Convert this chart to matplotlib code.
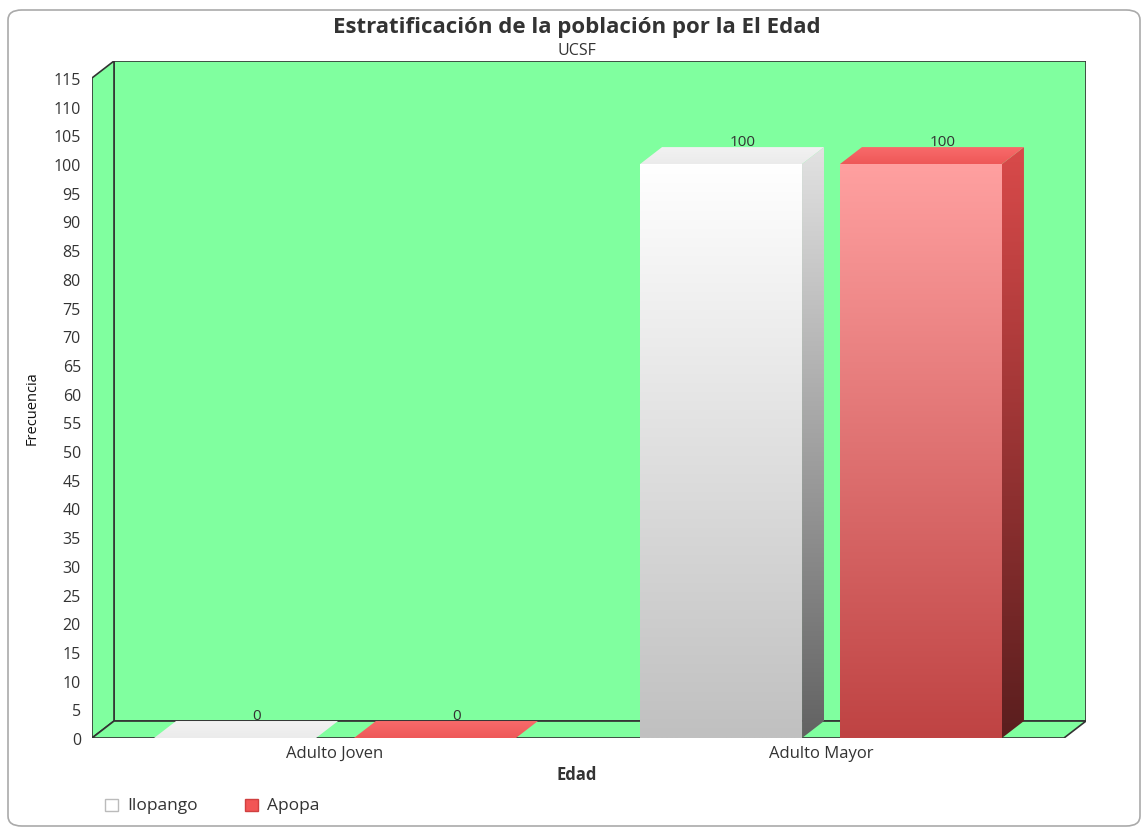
import numpy as np
import matplotlib
matplotlib.use("Agg")
import matplotlib.pyplot as plt
from matplotlib.patches import Polygon, Rectangle, FancyBboxPatch
from matplotlib.colors import LinearSegmentedColormap

plt.rcParams['font.family'] = ['Open Sans', 'DejaVu Sans']

# Data
categories = ["Adulto Joven", "Adulto Mayor"]
series_names = ["Ilopango", "Apopa"]
ilopango = [0, 100]
apopa = [0, 100]
y_ticks = list(range(0, 120, 5))

title = "Estratificación de la población por la El Edad"
subtitle = "UCSF"

# Face colours (top, bottom) for each series
front_cols = [("#ffffff", "#c0c0c0"), ("#ffa0a0", "#bf4343")]
side_cols = [("#e2e2e2", "#626262"), ("#d94a4a", "#5a1e1e")]
top_cols = [("#f2f2f2", "#ebebeb"), ("#f86a6a", "#ee5858")]
legend_cols = ["#ffffff", "#f25555"]
wall = "#80ff9f"
edge = "#333333"

W, H = 1144, 829
fig = plt.figure(figsize=(W / 100, H / 100), dpi=100)

# plot area in pixels: front plane x 92..1064, y 739..78 ; depth 22 px right, 17 px up
px_left, px_right_front, px_depth_x = 92, 1064, 22
px_bottom, px_top_back = 739, 62
ymax = 115
unit_x = (px_right_front - px_left) / 2.0
unit_y = (px_bottom - 78) / ymax
dx = px_depth_x / unit_x
dy = 17 / unit_y

ax = fig.add_axes([px_left / W, (H - px_bottom) / H,
                   (px_right_front + px_depth_x - px_left) / W,
                   (px_bottom - px_top_back) / H])
xlim = (-0.5, 1.5 + dx)
ylim = (0, ymax + dy)

# Walls
back = Polygon([(-0.5 + dx, dy), (1.5 + dx, dy), (1.5 + dx, ymax + dy), (-0.5 + dx, ymax + dy)],
               closed=True, facecolor=wall, edgecolor=edge, lw=1.2, zorder=1)
left = Polygon([(-0.5, 0), (-0.5 + dx, dy), (-0.5 + dx, ymax + dy), (-0.5, ymax)],
               closed=True, facecolor=wall, edgecolor=edge, lw=1.2, zorder=1)
floor = Polygon([(-0.5, 0), (1.5, 0), (1.5 + dx, dy), (-0.5 + dx, dy)],
                closed=True, facecolor=wall, edgecolor=edge, lw=1.2, zorder=1)
for p in (back, left, floor):
    ax.add_patch(p)


def grad_fill(poly_pts, c_top, c_bot, zorder):
    poly = Polygon(poly_pts, closed=True, facecolor="none", edgecolor="none")
    ax.add_patch(poly)
    xs = [p[0] for p in poly_pts]
    ys = [p[1] for p in poly_pts]
    cmap = LinearSegmentedColormap.from_list("g", [c_bot, c_top])
    grad = np.linspace(0, 1, 256).reshape(-1, 1)
    ext = (min(xs), max(xs), min(ys), max(ys))
    if ext[3] - ext[2] < 1e-9:
        return
    im = ax.imshow(grad, cmap=cmap, extent=ext, origin="lower", aspect="auto",
                   interpolation="bilinear", zorder=zorder)
    im.set_clip_path(poly)


bar_w = 1 / 3
gap = 0.078
offsets = [-(bar_w + gap) / 2, (bar_w + gap) / 2]
series = [ilopango, apopa]

for si, vals in enumerate(series):
    for ci, v in enumerate(vals):
        xc = ci + offsets[si]
        x0, x1 = xc - bar_w / 2, xc + bar_w / 2
        if v > 0:
            grad_fill([(x0, 0), (x1, 0), (x1, v), (x0, v)], *front_cols[si], zorder=3)
            grad_fill([(x1, 0), (x1 + dx, dy), (x1 + dx, v + dy), (x1, v)], *side_cols[si], zorder=3)
        grad_fill([(x0, v), (x1, v), (x1 + dx, v + dy), (x0 + dx, v + dy)], *top_cols[si], zorder=3)
        ax.text(xc + dx, v + dy - 0.3, f"{v}", ha="center", va="bottom",
                fontsize=11, color="#333333", zorder=5)

ax.set_xlim(*xlim)
ax.set_ylim(*ylim)
for s in ax.spines.values():
    s.set_visible(False)
ax.set_yticks(y_ticks)
ax.set_yticklabels([str(t) for t in y_ticks])
ax.set_xticks(range(len(categories)))
ax.set_xticklabels(categories)
ax.tick_params(axis="y", length=0, pad=8, labelsize=11.5, labelcolor="#333333")
ax.tick_params(axis="x", length=0, pad=5, labelsize=12, labelcolor="#333333")
ax.patch.set_visible(False)

fig.text(32 / W, 1 - 408 / H, "Frecuencia", rotation=90, ha="center", va="center",
         fontsize=10.5, color="#111111")
fig.text(577 / W, 1 - 775 / H, "Edad", ha="center", va="center",
         fontsize=12, fontweight="bold", color="#333333")
fig.text(577 / W, 1 - 28 / H, title, ha="center", va="center",
         fontsize=16, fontweight="bold", color="#333333")
fig.text(577 / W, 1 - 51 / H, subtitle, ha="center", va="center",
         fontsize=11.5, color="#333333")

# Legend
lx = [105, 245]
for i, name in enumerate(series_names):
    fig.patches.append(Rectangle((lx[i] / W, 1 - 812 / H), 13 / W, 12 / H,
                                 transform=fig.transFigure, facecolor=legend_cols[i],
                                 edgecolor="#bbbbbb" if i == 0 else "#d04040", lw=1))
    fig.text((lx[i] + 22) / W, 1 - 806 / H, name, ha="left", va="center",
             fontsize=12.5, color="#333333")

# Frame
frame = FancyBboxPatch((8 / W, 2 / H), 1132 / W, 816 / H,
                       boxstyle="round,pad=0,rounding_size=0.012",
                       transform=fig.transFigure, facecolor="none",
                       edgecolor="#aaaaaa", lw=1.2)
fig.patches.append(frame)

fig.savefig("out.png", dpi=100)
